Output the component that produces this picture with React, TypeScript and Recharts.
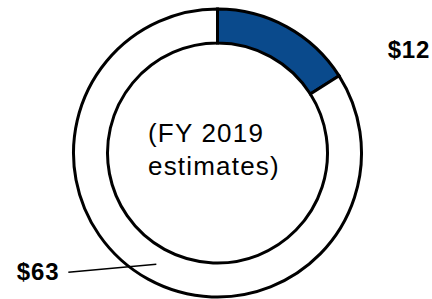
import { PieChart, Pie, Cell } from 'recharts';

const sliceValues = [12, 63];
const sliceLabels = ['$12', '$63'];
const sliceColors = ['#0a4a8c', '#ffffff'];
const centerLines = ['(FY 2019', 'estimates)'];

const RADIAN = Math.PI / 180;

const data = sliceValues.map((value, i) => ({
  name: sliceLabels[i],
  value,
}));

// label offsets from the middle of the ring, per slice
function renderLabel(props: any) {
  const { cx, cy, midAngle, innerRadius, outerRadius, index } = props;
  const r = (innerRadius + outerRadius) / 2;
  const mx = cx + r * Math.cos(-midAngle * RADIAN);
  const my = cy + r * Math.sin(-midAngle * RADIAN);
  const textStyle = {
    fontFamily: '"Liberation Sans", Arial, sans-serif',
    fontSize: 24,
    fontWeight: 700,
    letterSpacing: 0.8,
    fill: '#000',
  };
  if (index === 0) {
    return (
      <text x={mx + 109} y={my + 16} textAnchor="start" style={textStyle}>
        {sliceLabels[index]}
      </text>
    );
  }
  return (
    <g>
      <line x1={mx} y1={my} x2={mx - 88} y2={my + 8} stroke="#000" strokeWidth={1.5} />
      <text x={mx - 97} y={my + 16} textAnchor="end" style={textStyle}>
        {sliceLabels[index]}
      </text>
    </g>
  );
}

const centerStyle = {
  fontFamily: '"Liberation Sans", Arial, sans-serif',
  fontSize: 26,
  letterSpacing: 1.2,
  fill: '#000',
};

export default function App() {
  const cx = 217.5;
  const cy = 153;
  return (
    <div style={{ position: 'absolute', left: 0, top: 0, width: 432, height: 299, background: '#fff' }}>
      <PieChart width={432} height={299} margin={{ top: 0, right: 0, bottom: 0, left: 0 }}>
        <Pie
          data={data}
          dataKey="value"
          cx={cx}
          cy={cy}
          innerRadius={110}
          outerRadius={144}
          startAngle={90}
          endAngle={-270}
          stroke="#000"
          strokeWidth={3}
          label={renderLabel}
          labelLine={false}
          isAnimationActive={false}
        >
          {data.map((d, i) => (
            <Cell key={d.name} fill={sliceColors[i]} stroke="#000" strokeWidth={3} />
          ))}
        </Pie>
        <text x={cx - 69.5} y={142} textAnchor="start" style={centerStyle}>
          {centerLines[0]}
        </text>
        <text x={cx - 69.5} y={175} textAnchor="start" style={centerStyle}>
          {centerLines[1]}
        </text>
      </PieChart>
    </div>
  );
}
